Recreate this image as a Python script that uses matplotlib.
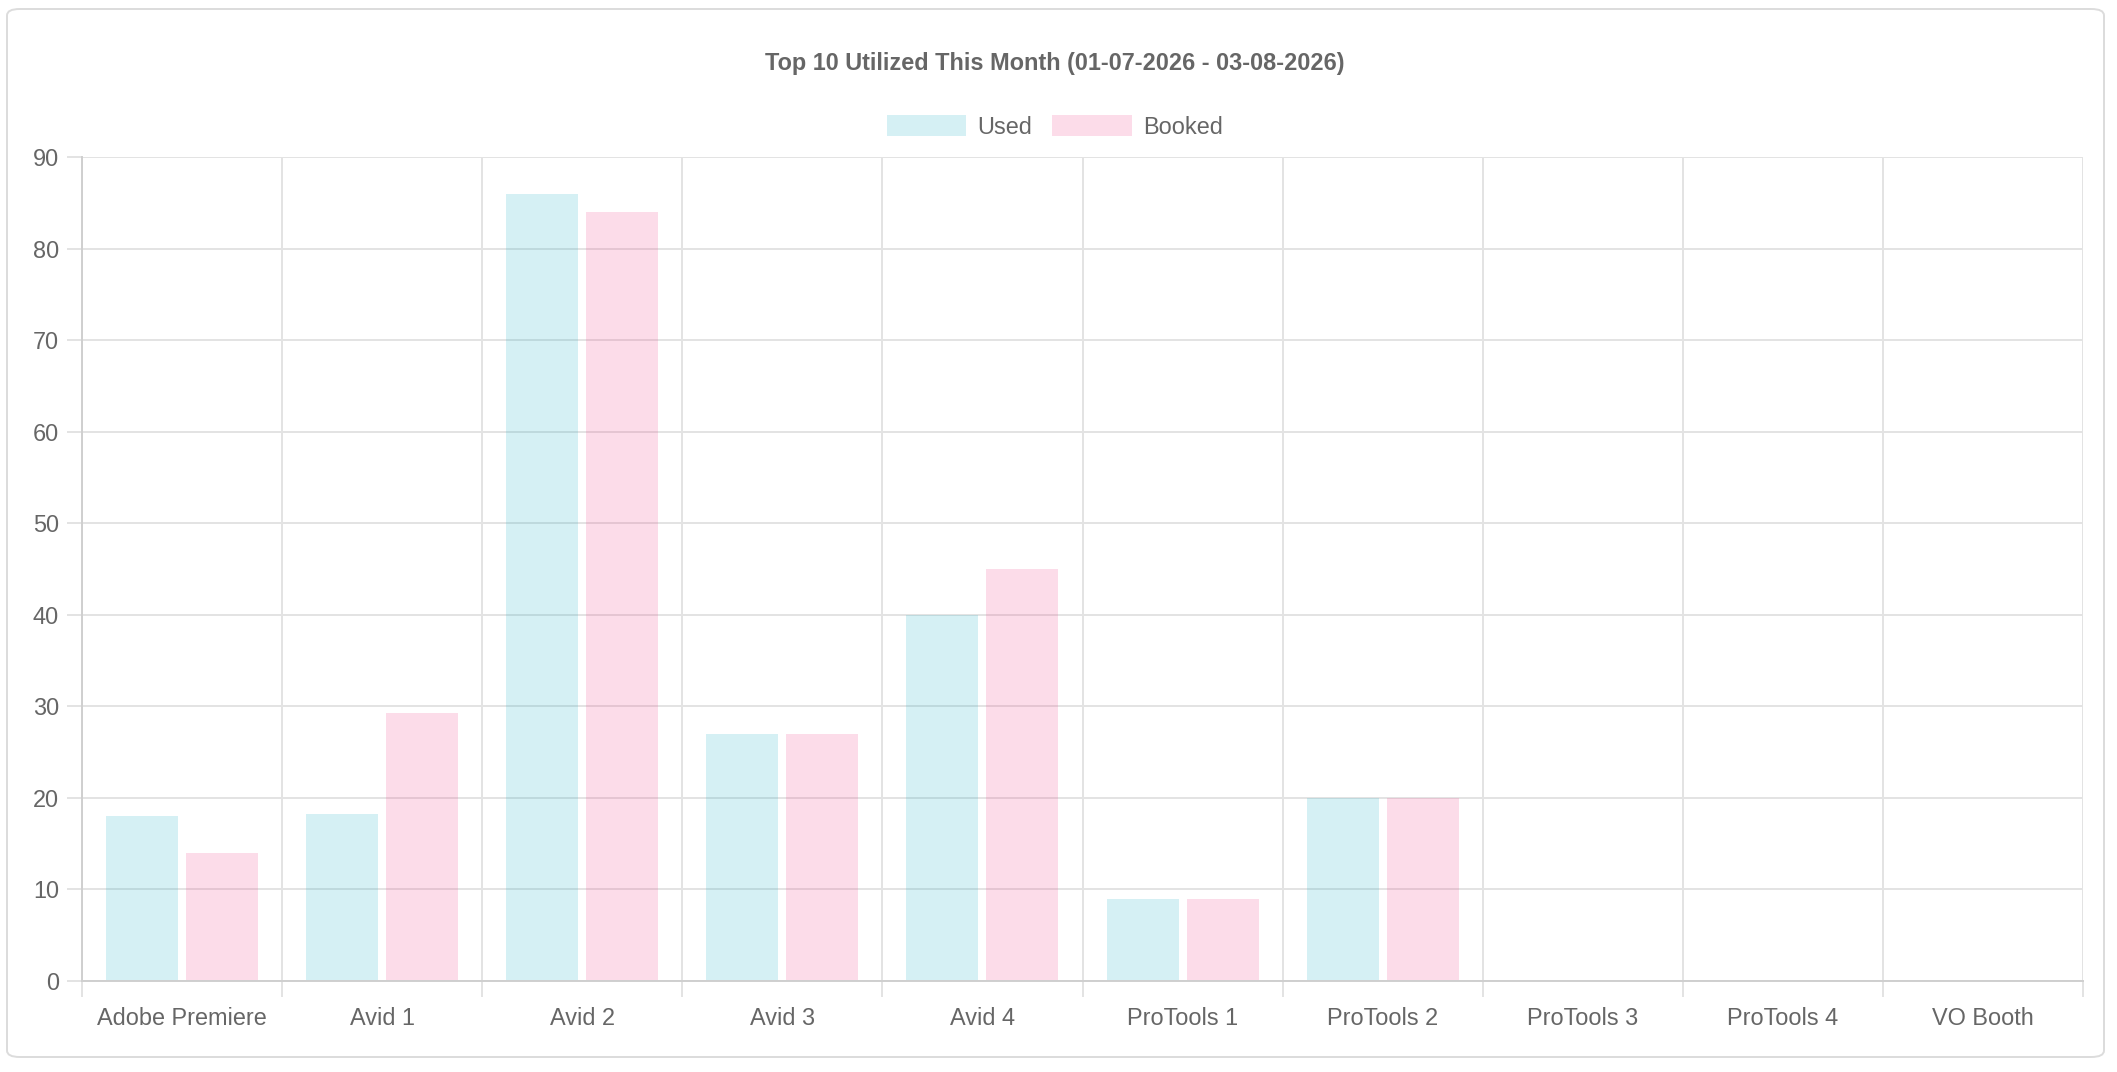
import numpy as np
import matplotlib
matplotlib.use('Agg')
import matplotlib.pyplot as plt
from matplotlib.patches import FancyBboxPatch, Patch

plt.rcParams['font.family'] = ['Liberation Sans', 'DejaVu Sans']

# data
rooms = ['Adobe Premiere', 'Avid 1', 'Avid 2', 'Avid 3', 'Avid 4',
         'ProTools 1', 'ProTools 2', 'ProTools 3', 'ProTools 4', 'VO Booth']
used = [18, 18.25, 86, 27, 40, 9, 20, 0, 0, 0]
booked = [14, 29.25, 84, 27, 45, 9, 20, 0, 0, 0]
yticks = [0, 10, 20, 30, 40, 50, 60, 70, 80, 90]
title = 'Top 10 Utilized This Month (01-07-2026 - 03-08-2026)'

used_col = (45/255, 180/255, 200/255, 0.2)
booked_col = (240/255, 80/255, 145/255, 0.2)
txt = '#666666'
grid_col = '#e3e3e3'
axis_col = '#cfcfcf'
fs = 16.9

W, H = 2117, 1072
fig = plt.figure(figsize=(W/100, H/100), dpi=100)

# card behind the chart
card = FancyBboxPatch((7/W, 15/H), (2104-7)/W, (1063-15)/H,
                      boxstyle='round,pad=0,rounding_size=0.006',
                      transform=fig.transFigure, facecolor='white',
                      edgecolor='#dcdcdc', linewidth=1.4, zorder=-5)
fig.patches.append(card)

ax = fig.add_axes([82/W, 91/H, 2001/W, 824/H])
ax.set_facecolor('none')

x = np.arange(len(rooms))
bw = 0.36
ax.bar(x - 0.2, used, width=bw, color=used_col, zorder=3, label='Used')
ax.bar(x + 0.2, booked, width=bw, color=booked_col, zorder=3, label='Booked')

ax.set_xlim(-0.5, len(rooms) - 0.5)
ax.set_ylim(0, 90)
ax.set_yticks(yticks)
ax.set_xticks(x)
ax.set_xticklabels(rooms)
ax.set_xticks(np.arange(len(rooms) + 1) - 0.5, minor=True)

# horizontal grid + vertical grid at category borders
ax.grid(axis='y', which='major', color=grid_col, linewidth=1.4, zorder=0)
ax.grid(axis='x', which='minor', color=grid_col, linewidth=1.4, zorder=0)
ax.tick_params(axis='x', which='major', length=0, pad=19, labelsize=fs, labelcolor=txt)
ax.tick_params(axis='x', which='minor', length=11.5, width=1.4, color=grid_col)
ax.tick_params(axis='y', length=11, width=1.4, color=grid_col, pad=5.5,
               labelsize=fs, labelcolor=txt)

for s in ['top', 'right']:
    ax.spines[s].set_visible(False)
for s in ['left', 'bottom']:
    ax.spines[s].set_color(axis_col)
    ax.spines[s].set_linewidth(1.4)
    ax.spines[s].set_zorder(4)

fig.text(1055/W, 1 - 63.5/H, title, ha='center', va='center',
         fontsize=fs, fontweight='bold', color=txt)

handles = [Patch(facecolor=used_col, edgecolor='none', label='Used'),
           Patch(facecolor=booked_col, edgecolor='none', label='Booked')]
fig.legend(handles=handles, loc='center', bbox_to_anchor=(1055/W, 1 - 127/H),
           ncol=2, frameon=False, fontsize=fs, labelcolor=txt,
           handlelength=3.38, handleheight=1.0, handletextpad=0.5,
           columnspacing=0.85, borderaxespad=0, borderpad=0)

fig.savefig('out.png', dpi=100)
